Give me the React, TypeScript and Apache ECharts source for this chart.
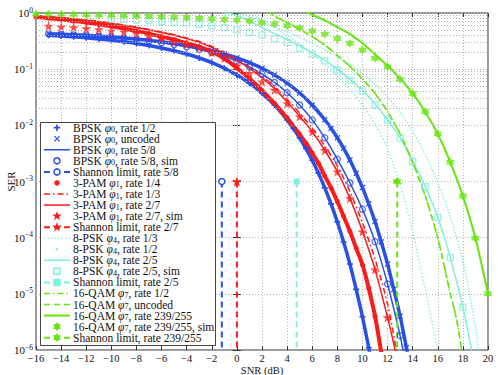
import React, { useEffect, useRef } from 'react';
import * as echarts from 'echarts';

type P = [number, number];

// ---------- data (SNR dB, SER) ----------
const bpskRate12: P[] = [[-15,.40],[-14,.389],[-13,.376],[-12,.361],[-11,.345],[-10,.327],[-9,.308],[-8,.287],[-7,.264],[-6,.239],[-5,.213],[-4,.186],[-3,.158],[-2,.131],[-1,.104],[0,.0786],[1,.0563],[2,.0375],[3,.0229],[4,.0125],[4.5,.0088],[5,.00595],[5.5,.00386],[6,.00239],[6.5,.0014],[7,7.7e-4],[7.5,4.0e-4],[8,1.9e-4],[8.5,8.4e-5],[9,3.4e-5],[9.5,1.2e-5],[10,3.9e-6],[10.5,1.1e-6],[10.6,8e-7]];
const bpskUncoded: P[] = [[-15,.429],[-14,.421],[-13,.411],[-12,.401],[-11,.389],[-10,.376],[-9,.361],[-8,.345],[-7,.328],[-6,.308],[-5,.287],[-4,.264],[-3,.239],[-2,.2135],[-1,.186],[0,.1587],[1,.131],[2,.104],[3,.0788],[4,.0565],[5,.0377],[6,.023],[7,.01258],[7.5,.0089],[8,.006],[8.5,.0039],[9,.00242],[9.5,.0014],[10,7.8e-4],[10.5,4.0e-4],[11,1.94e-4],[11.5,8.4e-5],[12,3.4e-5],[12.5,1.2e-5],[13,4.0e-6],[13.5,1.1e-6],[13.6,8e-7]];
const bpskRate58: P[] = [[-15,.425],[-14,.417],[-13,.407],[-12,.396],[-11,.383],[-10,.369],[-9,.353],[-8,.336],[-7,.317],[-6,.296],[-5,.274],[-4,.25],[-3,.224],[-2,.197],[-1,.168],[0,.139],[1,.11],[2,.082],[3,.058],[4,.038],[5,.023],[6,.0125],[7,.006],[8,.0025],[9,9.5e-4],[10,3.2e-4],[11,8.5e-5],[12,1.5e-5],[13,1.8e-6],[13.3,8e-7]];
const bpskRate58Sim: P[] = [[-15,.425],[-14,.417],[-13,.407],[-12,.396],[-11,.383],[-10,.369],[-9,.353],[-8,.336],[-7,.317],[-6,.296],[-5,.274],[-4,.25],[-3,.224],[-2,.197],[-1,.168],[0,.139],[1,.11],[2,.082],[3,.058],[4,.038],[5,.023],[6,.0125],[7,.006],[8,.0025],[9,9.5e-4],[10,3.2e-4],[11,8.5e-5],[12,1.5e-5],[13,1.8e-6]];
const pamRate14: P[] = [[-16,.85],[-15,.81],[-14,.77],[-13,.72],[-12,.68],[-11,.63],[-10,.58],[-9,.53],[-8,.48],[-7,.43],[-6,.38],[-5,.335],[-4,.29],[-3,.25],[-2,.205],[-1,.155],[0,.105],[1,.068],[2,.042],[3,.0245],[4,.0135],[5,.0069],[5.5,.0048],[6,.0032],[6.5,.0021],[7,.00126],[7.5,7.7e-4],[8,4.4e-4],[8.5,2.4e-4],[9,1.3e-4],[9.5,6.5e-5],[10,3.3e-5],[10.5,1.26e-5],[11,4e-6],[11.5,9e-7]];
const pamRate13: P[] = [[-16,.89],[-15,.86],[-14,.83],[-13,.79],[-12,.75],[-11,.71],[-10,.66],[-9,.61],[-8,.56],[-7,.51],[-6,.46],[-5,.41],[-4,.36],[-3,.31],[-2,.255],[-1,.2],[0,.152],[1,.109],[2,.075],[3,.049],[4,.029],[5,.0165],[6,.0089],[7,.0043],[8,.0019],[9,6.6e-4],[10,1.85e-4],[11,4.2e-5],[12,6.6e-6],[12.7,1e-6],[12.8,7e-7]];
const pamRate27: P[] = [[-16,.88],[-15,.85],[-14,.82],[-13,.78],[-12,.74],[-11,.70],[-10,.65],[-9,.60],[-8,.55],[-7,.50],[-6,.45],[-5,.40],[-4,.35],[-3,.30],[-2,.245],[-1,.19],[0,.145],[1,.103],[2,.07],[3,.045],[4,.026],[5,.0145],[6,.0077],[7,.0036],[8,.0015],[9,5.0e-4],[10,1.3e-4],[11,2.7e-5],[12,3.8e-6],[12.6,1e-6],[12.7,7e-7]];
const pamRate27Sim: P[] = [[-15,.586],[-14,.57],[-13,.556],[-12,.53],[-11,.51],[-10,.48],[-9,.46],[-8,.435],[-7,.39],[-6,.354],[-5,.31],[-4,.28],[-3,.245],[-2,.2],[-1,.155],[0,.115],[1,.085],[2,.06],[3,.0425],[4,.0246],[5,.0143],[6,.0077],[7,.0036],[8,.0015],[9,5.0e-4],[10,1.28e-4],[11,2.7e-5],[12,3.8e-6]];
const pskRate13: P[] = [[1,.95],[2,.75],[3,.55],[4,.4],[5,.28],[6,.19],[7,.12],[8,.075],[9,.044],[10,.023],[11,.0105],[12,.0038],[13,9e-4],[14,1.3e-4],[15,1.2e-5],[16,1e-6],[16.1,7e-7]];
const pskRate12: P[] = [[-0.5,1.08],[0,1.0],[1,.86],[2,.7],[3,.57],[4,.46],[5,.37],[6,.29],[7,.22],[8,.165],[9,.12],[10,.083],[11,.054],[12,.032],[13,.017],[14,.0078],[15,.003],[16,9.5e-4],[17,2.3e-4],[18,3.8e-5],[19,2.5e-6],[19.3,7e-7]];
const pskRate25: P[] = [[-1.5,1.1],[-1,1.02],[0,.9],[1,.72],[2,.55],[3,.43],[4,.34],[5,.26],[6,.195],[7,.145],[8,.1],[9,.066],[10,.042],[11,.024],[12,.0126],[13,.006],[14,.0023],[15,8.2e-4],[16,2.3e-4],[17,4.4e-5],[18,5.8e-6],[18.7,1e-6],[18.8,7e-7]];
const pskRate25Sim: P[] = [[-10,.78],[-9,.77],[-8,.75],[-7,.73],[-6,.71],[-5,.69],[-4,.66],[-3,.63],[-2,.59],[-1,.55],[0,.5],[1,.45],[2,.405],[3,.345],[4,.30],[5,.235],[6,.186],[7,.14],[8,.097],[9,.064],[10,.041],[11,.023],[12,.0124],[13,.0059],[14,.00225],[15,8.1e-4],[16,2.3e-4],[17,4.4e-5],[18,5.8e-6]];
const qamRate12: P[] = [[2.5,1.08],[3,.88],[4,.68],[5,.51],[6,.38],[7,.27],[8,.175],[9,.112],[10,.067],[11,.037],[12,.0175],[13,.007],[14,.0022],[15,5.5e-4],[16,9.8e-5],[17,1.0e-5],[17.5,3.5e-6],[17.9,1e-6],[18,7e-7]];
const qamUncoded: P[] = [[2.5,1.08],[3,.88],[4,.68],[5,.51],[6,.38],[7,.27],[8,.175],[9,.112],[10,.067],[11,.037],[12,.0175],[13,.007],[14,.0022],[15,5.5e-4],[16,9.8e-5],[17,1.0e-5],[17.5,3.5e-6],[17.9,1e-6],[18,7e-7]];
const qamRate239: P[] = [[5.5,1.08],[6,.93],[7,.74],[8,.56],[9,.42],[10,.29],[11,.185],[12,.115],[13,.068],[14,.037],[15,.0175],[16,.007],[17,.0022],[18,5.5e-4],[19,9.8e-5],[20,1.0e-5]];
const qamRate239Sim: P[] = [[-16,.96],[-15,.955],[-14,.95],[-13,.94],[-12,.93],[-11,.92],[-10,.91],[-9,.9],[-8,.89],[-7,.875],[-6,.86],[-5,.85],[-4,.83],[-3,.81],[-2,.79],[-1,.77],[0,.75],[1,.72],[2,.68],[3,.64],[4,.59],[5,.54],[6,.48],[7,.42],[8,.35],[9,.29],[10,.22],[11,.156],[12,.11],[13,.066],[14,.037],[15,.0175],[16,.007],[17,.0022],[18,5.5e-4],[19,9.8e-5],[20,1.0e-5]];
// Shannon limits: SNR position; vertical line spans these SER values
const shannonSNR = { r58: -1.2, r27: 0.0, r25: 4.76, r239: 12.77 };
const shannonSpan: [number, number] = [1e-3, 1e-6];

const xTicks = { min: -16, max: 20, step: 2 };

// legend labels: [prefix, subscript digit or '', suffix]
const legendLabels: [string, string, string][] = [
  ['BPSK ', '0', ', rate 1/2'],
  ['BPSK ', '0', ', uncoded'],
  ['BPSK ', '0', ', rate 5/8'],
  ['BPSK ', '0', ', rate 5/8, sim'],
  ['Shannon limit, rate 5/8', '', ''],
  ['3-PAM ', '1', ', rate 1/4'],
  ['3-PAM ', '1', ', rate 1/3'],
  ['3-PAM ', '1', ', rate 2/7'],
  ['3-PAM ', '1', ', rate 2/7, sim'],
  ['Shannon limit, rate 2/7', '', ''],
  ['8-PSK ', '4', ', rate 1/3'],
  ['8-PSK ', '4', ', rate 1/2'],
  ['8-PSK ', '4', ', rate 2/5'],
  ['8-PSK ', '4', ', rate 2/5, sim'],
  ['Shannon limit, rate 2/5', '', ''],
  ['16-QAM ', '7', ', rate 1/2'],
  ['16-QAM ', '7', ', uncoded'],
  ['16-QAM ', '7', ', rate 239/255'],
  ['16-QAM ', '7', ', rate 239/255, sim'],
  ['Shannon limit, rate 239/255', '', ''],
];

// ---------- styles ----------
const BLUE = '#2a4fe6';
const RED = '#ff1a1a';
const CYAN = '#80f0de';
const GREEN = '#66e60f';
const FONT = '"Liberation Serif", "DejaVu Serif", serif';
const FS = 11.5;

const PLUS = 'path://M-1.3,-5H1.3V-1.3H5V1.3H1.3V5H-1.3V1.3H-5V-1.3H-1.3Z';
const CROSS = 'path://M-3.6,-5L0,-1.4L3.6,-5L5,-3.6L1.4,0L5,3.6L3.6,5L0,1.4L-3.6,5L-5,3.6L-1.4,0L-5,-3.6Z';
const STAR5 = 'path://M0,-10L2.245,-3.09L9.511,-3.09L3.633,1.18L5.878,8.09L0,3.82L-5.878,8.09L-3.633,1.18L-9.511,-3.09L-2.245,-3.09Z';
const HEX = 'path://M0,-10L2.887,-5L8.66,-5L5.77,0L8.66,5L2.887,5L0,10L-2.887,5L-8.66,5L-5.77,0L-8.66,-5L-2.887,-5Z';

const DASH = [6, 4];
const DASHDOT = [6, 3, 1.5, 3];
const DOTTED = [1.5, 2];

function pathPoints(p: string, r: number): number[][] {
  const nums = p.replace('path://', '').match(/-?\d+(\.\d+)?/g)!.map(Number);
  const pts: number[][] = [];
  for (let i = 0; i + 1 < nums.length; i += 2) pts.push([nums[i] * r / 10, nums[i + 1] * r / 10]);
  return pts;
}
const PLUS_PTS = [[-1.3,-5],[1.3,-5],[1.3,-1.3],[5,-1.3],[5,1.3],[1.3,1.3],[1.3,5],[-1.3,5],[-1.3,1.3],[-5,1.3],[-5,-1.3],[-1.3,-1.3]];

function App() {
  const ref = useRef<HTMLDivElement>(null);
  useEffect(() => {
    if (!ref.current) return;
    const chart = echarts.init(ref.current, undefined, { renderer: 'svg' });

    const line = (name: string, data: P[], color: string, width: number, type: any) => ({
      name, type: 'line', data, smooth: 0.3, clip: true, showSymbol: false, symbol: 'none',
      lineStyle: { color, width, type }, itemStyle: { color }, z: 3,
    });
    const dense = (name: string, data: P[], color: string, symbol: string, size: number, width: number) => ({
      name, type: 'line', data, smooth: 0.3, clip: true, showSymbol: true, symbol, symbolSize: size,
      lineStyle: { color, width }, itemStyle: { color }, z: 3,
    });
    const scatter = (name: string, data: P[], color: string, symbol: string, size: number, hollow: boolean) => ({
      name, type: 'scatter', data, symbol, symbolSize: size, clip: true, z: 4,
      itemStyle: hollow ? { color: 'rgba(255,255,255,0)', borderColor: color, borderWidth: 1.3 } : { color },
    });
    const shannon = (name: string, x: number, color: string, symbol: string, size: number, hollow: boolean) => ({
      name, type: 'line', clip: true, showSymbol: true, symbol, symbolSize: size,
      data: [[x, shannonSpan[0]], { value: [x, shannonSpan[1]], symbol: 'none' }],
      lineStyle: { color, width: 2, type: DASH },
      itemStyle: hollow ? { color: '#fff', borderColor: color, borderWidth: 1.5 } : { color },
      z: 4,
    });

    const minorVals: number[] = [];
    for (let e = -6; e < 0; e++) for (let m = 2; m <= 9; m++) minorVals.push(m * Math.pow(10, e));

    const series: any[] = [
      {
        name: '_grid', type: 'line', data: [], silent: true, z: 1,
        markLine: {
          silent: true, symbol: 'none', label: { show: false }, animation: false,
          lineStyle: { color: '#b4b4b4', width: 1, type: [1, 2] },
          data: minorVals.map(v => ({ yAxis: v })),
        },
      },
      dense('BPSK rate 1/2', bpskRate12, BLUE, PLUS, 6, 3.5),
      dense('BPSK uncoded', bpskUncoded, BLUE, CROSS, 6, 3.5),
      line('BPSK rate 5/8', bpskRate58, BLUE, 1.5, 'solid'),
      scatter('BPSK rate 5/8 sim', bpskRate58Sim, BLUE, 'circle', 6, true),
      shannon('Shannon 5/8', shannonSNR.r58, BLUE, 'circle', 6, true),
      dense('3-PAM rate 1/4', pamRate14, RED, 'circle', 5, 4),
      line('3-PAM rate 1/3', pamRate13, RED, 1.5, DASHDOT),
      line('3-PAM rate 2/7', pamRate27, RED, 1.5, 'solid'),
      scatter('3-PAM rate 2/7 sim', pamRate27Sim, RED, STAR5, 10, false),
      shannon('Shannon 2/7', shannonSNR.r27, RED, STAR5, 10, false),
      line('8-PSK rate 1/3', pskRate13, CYAN, 1.3, DOTTED),
      line('8-PSK rate 1/2', pskRate12, CYAN, 1.3, [1.5, 1.5]),
      line('8-PSK rate 2/5', pskRate25, CYAN, 1.5, 'solid'),
      scatter('8-PSK rate 2/5 sim', pskRate25Sim, CYAN, 'rect', 6, true),
      shannon('Shannon 2/5', shannonSNR.r25, CYAN, 'rect', 6, false),
      line('16-QAM rate 1/2', qamRate12, GREEN, 1.5, DASHDOT),
      line('16-QAM uncoded', qamUncoded, GREEN, 1.5, DASH),
      line('16-QAM rate 239/255', qamRate239, GREEN, 2, 'solid'),
      scatter('16-QAM rate 239/255 sim', qamRate239Sim, GREEN, HEX, 9, false),
      shannon('Shannon 239/255', shannonSNR.r239, GREEN, HEX, 9, false),
    ];

    // ---- hand-drawn legend (graphic) ----
    type Mk = { kind: 'plus' | 'cross' | 'circle' | 'dot' | 'star' | 'hex' | 'rect' | 'none'; fill: boolean; r: number };
    const legendStyle: { color: string; line: any; width: number; mk: Mk }[] = [
      { color: BLUE, line: null, width: 0, mk: { kind: 'plus', fill: true, r: 3.2 } },
      { color: BLUE, line: null, width: 0, mk: { kind: 'cross', fill: true, r: 3 } },
      { color: BLUE, line: 'solid', width: 1.5, mk: { kind: 'none', fill: false, r: 0 } },
      { color: BLUE, line: null, width: 0, mk: { kind: 'circle', fill: false, r: 3 } },
      { color: BLUE, line: DASH, width: 2, mk: { kind: 'circle', fill: false, r: 3 } },
      { color: RED, line: null, width: 0, mk: { kind: 'dot', fill: true, r: 2.7 } },
      { color: RED, line: DASHDOT, width: 1.5, mk: { kind: 'none', fill: false, r: 0 } },
      { color: RED, line: 'solid', width: 1.5, mk: { kind: 'none', fill: false, r: 0 } },
      { color: RED, line: null, width: 0, mk: { kind: 'star', fill: true, r: 5.2 } },
      { color: RED, line: DASH, width: 2, mk: { kind: 'star', fill: true, r: 5.2 } },
      { color: CYAN, line: DOTTED, width: 1.3, mk: { kind: 'none', fill: false, r: 0 } },
      { color: CYAN, line: null, width: 0, mk: { kind: 'dot', fill: true, r: 1.2 } },
      { color: CYAN, line: 'solid', width: 1.5, mk: { kind: 'none', fill: false, r: 0 } },
      { color: CYAN, line: null, width: 0, mk: { kind: 'rect', fill: false, r: 3 } },
      { color: CYAN, line: DASH, width: 2, mk: { kind: 'rect', fill: true, r: 3 } },
      { color: GREEN, line: DASHDOT, width: 1.5, mk: { kind: 'none', fill: false, r: 0 } },
      { color: GREEN, line: DASH, width: 1.5, mk: { kind: 'none', fill: false, r: 0 } },
      { color: GREEN, line: 'solid', width: 2, mk: { kind: 'none', fill: false, r: 0 } },
      { color: GREEN, line: null, width: 0, mk: { kind: 'hex', fill: true, r: 4.6 } },
      { color: GREEN, line: DASH, width: 2, mk: { kind: 'hex', fill: true, r: 4.6 } },
    ];
    const LX = 40, LY = 122, LW = 175, LH = 223, ROW0 = 127.7, ROWH = 11.05;
    const g: any[] = [{
      type: 'rect', shape: { x: LX + 0.5, y: LY + 0.5, width: LW, height: LH },
      style: { fill: '#fff', stroke: '#444', lineWidth: 1 }, z: 100,
    }];
    legendLabels.forEach((lab, i) => {
      const cy = ROW0 + i * ROWH;
      const st = legendStyle[i];
      const cx = 57;
      if (st.line) {
        g.push({ type: 'line', shape: { x1: 44, y1: cy, x2: 70, y2: cy },
          style: { stroke: st.color, lineWidth: st.width, lineDash: st.line === 'solid' ? null : st.line }, z: 101 });
      }
      const mk = st.mk;
      const fill = mk.fill ? st.color : '#fff';
      if (mk.kind === 'circle') g.push({ type: 'circle', shape: { cx, cy, r: mk.r }, style: { fill, stroke: st.color, lineWidth: 1.5 }, z: 102 });
      if (mk.kind === 'dot') g.push({ type: 'circle', shape: { cx, cy, r: mk.r }, style: { fill: st.color }, z: 102 });
      if (mk.kind === 'rect') g.push({ type: 'rect', shape: { x: cx - mk.r, y: cy - mk.r, width: 2 * mk.r, height: 2 * mk.r }, style: { fill, stroke: st.color, lineWidth: 1.5 }, z: 102 });
      const poly = (pts: number[][]) => g.push({ type: 'polygon', shape: { points: pts.map(p => [cx + p[0], cy + p[1]]) }, style: { fill: st.color }, z: 102 });
      if (mk.kind === 'plus') poly(PLUS_PTS.map(p => [p[0] * mk.r / 5, p[1] * mk.r / 5]));
      if (mk.kind === 'cross') poly(pathPoints(CROSS, mk.r * 2));
      if (mk.kind === 'star') poly(pathPoints(STAR5, mk.r));
      if (mk.kind === 'hex') poly(pathPoints(HEX, mk.r));
      const text = lab[1] ? lab[0] + '{i|φ}{sub|' + lab[1] + '}' + lab[2] : lab[0];
      g.push({
        type: 'text', x: 73, y: cy, z: 103,
        style: {
          text, fill: '#111', font: FS + 'px ' + FONT, verticalAlign: 'middle', align: 'left',
          rich: {
            i: { fontFamily: FONT, fontSize: FS, fontStyle: 'italic', fill: '#111', lineHeight: 12 },
            sub: { fontFamily: FONT, fontSize: 8, fill: '#111', lineHeight: 7, verticalAlign: 'bottom' },
          },
        },
      });
    });

    const supMap: Record<string, string> = { '0': '0', '-1': '−1', '-2': '−2', '-3': '−3', '-4': '−4', '-5': '−5', '-6': '−6' };

    chart.setOption({
      animation: false,
      backgroundColor: '#fff',
      grid: { left: 36, right: 10, top: 13, bottom: 25, show: true, borderColor: '#333', borderWidth: 1, backgroundColor: 'transparent', containLabel: false, outerBoundsMode: 'none' },
      xAxis: [
        {
          type: 'value', min: xTicks.min, max: xTicks.max, interval: xTicks.step,
          name: 'SNR (dB)', nameLocation: 'middle', nameGap: 15, nameMoveOverlap: false,
          nameTextStyle: { fontFamily: FONT, fontSize: 10.5, color: '#111', lineHeight: 10 },
          axisLine: { show: false }, axisTick: { inside: true, length: 4, lineStyle: { color: '#333' } },
          axisLabel: { fontFamily: FONT, fontSize: 10.5, color: '#111', margin: 3, lineHeight: 10, formatter: (v: number) => String(v).replace('-', '−') },
          splitLine: { show: true, lineStyle: { color: '#b4b4b4', width: 1, type: [1, 2] } },
        },
        {
          type: 'value', min: xTicks.min, max: xTicks.max, interval: xTicks.step, position: 'top',
          axisLine: { show: false }, axisTick: { inside: true, length: 4, lineStyle: { color: '#333' } },
          axisLabel: { show: false }, splitLine: { show: false },
        },
      ],
      yAxis: [
        {
          type: 'log', logBase: 10, min: 1e-6, max: 1,
          name: 'SER', nameLocation: 'middle', nameGap: 20, nameMoveOverlap: false,
          nameTextStyle: { fontFamily: FONT, fontSize: 11, color: '#111' },
          axisLine: { show: false }, axisTick: { inside: true, length: 4, lineStyle: { color: '#333' } },
          axisLabel: {
            margin: 3,
            formatter: (v: number) => {
              const e = String(Math.round(Math.log10(v)));
              return '{b|10}{s|' + (supMap[e] ?? e) + '}';
            },
            rich: {
              b: { fontFamily: FONT, fontSize: 11, color: '#111', lineHeight: 14 },
              s: { fontFamily: FONT, fontSize: 7.5, color: '#111', lineHeight: 8, verticalAlign: 'top' },
            },
          },
          splitLine: { show: true, lineStyle: { color: '#b4b4b4', width: 1, type: [1, 2] } },
        },
        {
          type: 'log', logBase: 10, min: 1e-6, max: 1, position: 'right',
          axisLine: { show: false }, axisTick: { inside: true, length: 4, lineStyle: { color: '#333' } },
          axisLabel: { show: false }, splitLine: { show: false },
        },
      ],
      graphic: g,
      series,
    });
    return () => chart.dispose();
  }, []);
  return <div ref={ref} style={{ position: 'fixed', left: 0, top: 0, width: 498, height: 375 }} />;
}

export default App;
